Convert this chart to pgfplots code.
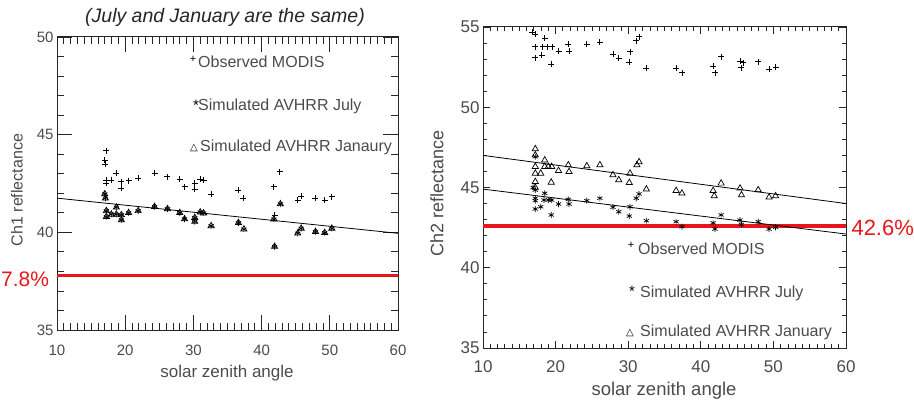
\documentclass[border=0pt]{standalone}
\usepackage{pgfplots}
\pgfplotsset{compat=1.18}
\usepackage{fontspec}
\setmainfont{Liberation Sans}
\newfontfamily\symfont{DejaVu Sans}
\definecolor{txt}{RGB}{75,75,75}
\definecolor{redl}{RGB}{232,22,28}

\pgfplotstableread{
x y
17.24 44.17
17.0 43.7
17.1 43.48
17.24 42.68
17.2 42.5
17.97 42.68
18.7 43.02
19.44 42.6
19.44 42.25
20.5 42.65
21.9 42.77
24.3 43.02
26.2 42.85
28.0 42.72
28.7 42.34
30.2 42.51
30.2 42.22
31.0 42.72
31.5 42.68
32.6 41.96
36.6 42.17
37.3 41.74
41.8 42.34
42.65 43.1
41.9 40.89
45.3 41.66
45.8 41.86
47.9 41.74
49.25 41.66
50.3 41.83
}\leftmodis

\pgfplotstableread{
x y
17.0 41.96
17.1 41.74
17.24 41.1
17.24 40.8
17.97 40.92
18.7 41.28
18.7 40.92
19.44 40.89
19.44 40.63
20.5 41.0
21.9 41.1
24.3 41.31
26.2 41.2
28.0 41.0
28.7 40.68
30.2 40.75
30.2 40.55
31.0 41.03
31.5 40.98
32.6 40.33
36.6 40.49
37.4 40.16
41.8 40.67
42.75 41.45
41.9 39.27
45.3 39.95
45.8 40.2
47.9 40.03
49.25 39.98
50.3 40.2
}\leftsim

\pgfplotstableread{
x y
16.8 54.67
17.2 54.54
17.2 53.77
17.2 53.09
18.1 53.26
18.2 53.77
18.5 54.3
18.9 53.77
19.4 52.68
19.55 53.77
20.4 53.5
21.75 53.92
21.85 53.5
24.3 53.92
26.1 54.05
27.9 53.32
28.7 53.05
30.25 53.46
30.15 52.8
31.1 54.15
31.5 54.4
32.5 52.43
36.6 52.43
37.4 52.15
41.7 52.57
41.95 52.15
42.8 53.15
45.4 52.88
45.6 52.46
45.8 52.78
47.9 52.84
49.4 52.36
50.3 52.49
}\rightmodis

\pgfplotstableread{
x y
17.2 46.92
16.9 45.0
17.2 44.84
17.2 44.33
17.2 44.18
17.2 43.66
17.95 43.8
18.5 44.64
18.4 44.22
19.0 44.22
19.46 44.22
19.4 43.29
20.4 43.97
21.75 44.26
21.85 43.97
24.3 44.18
26.1 44.33
27.9 43.77
28.7 43.49
30.25 43.8
30.15 43.22
31.1 44.33
31.5 44.6
32.5 42.93
36.6 42.87
37.4 42.56
41.7 42.8
41.95 42.41
42.8 43.29
45.4 42.97
45.6 42.7
47.9 42.87
49.4 42.41
50.3 42.52
}\rightjul

\pgfplotstableread{
x y
17.2 47.4
17.2 47.02
17.2 46.3
17.2 45.88
17.2 45.36
17.2 45.0
17.95 45.88
18.5 46.7
18.5 46.3
19.0 46.3
19.46 46.3
19.4 45.32
20.4 46.05
21.75 46.4
21.85 45.98
24.3 46.34
26.1 46.4
27.9 45.78
28.7 45.47
30.25 45.88
30.15 45.3
31.2 46.4
31.5 46.59
32.5 44.89
36.6 44.8
37.4 44.64
41.7 44.8
41.85 44.47
42.8 45.26
45.4 44.95
45.6 44.53
47.9 44.85
49.4 44.39
50.3 44.47
}\rightjan

\pgfplotsset{
  myaxis/.style={
    scale only axis,
    xmin=10, xmax=60,
    xtick={10,20,...,60},
    minor x tick num=9,
    minor y tick num=4,
    tick align=inside,
    axis line style={line width=1bp, black!85},
    every tick/.style={black!85, line width=0.8bp},
    tick label style={text=txt},
    /pgf/number format/assume math mode=true,
    clip=false,
  },
  modis/.style={only marks, mark=+, mark size=3bp, black, mark options={line width=0.8bp}},
  jul/.style={only marks, mark=asterisk, mark size=3bp, black, mark options={line width=0.7bp}},
  jan/.style={only marks, mark=triangle, mark size=3.6bp, black, mark options={line width=0.7bp}},
}

\begin{document}
\begin{tikzpicture}
\path[use as bounding box] (0bp,0bp) rectangle (914bp,402bp);
\clip (0bp,0bp) rectangle (914bp,402bp);

% ---------- left panel ----------
\begin{axis}[myaxis, at={(57bp,72bp)}, anchor=south west,
  width=341bp, height=293bp,
  ymin=35, ymax=50, ytick={35,40,45,50},
  major tick length=15bp, minor tick length=7bp,
  tick label style={font=\fontsize{15bp}{15bp}\selectfont},
  xticklabel style={yshift=-12bp}]
\addplot[redl, line width=3.5bp] coordinates {(10,37.8) (60,37.8)};
\addplot[black, line width=0.8bp] coordinates {(10,41.75) (60,39.95)};
\addplot[modis] table {\leftmodis};
\addplot[jul] table {\leftsim};
\addplot[jan] table {\leftsim};
\end{axis}

% ---------- right panel ----------
\begin{axis}[myaxis, at={(483bp,54bp)}, anchor=south west,
  width=363bp, height=321bp,
  ymin=35, ymax=55, ytick={35,40,45,50,55},
  major tick length=7bp, minor tick length=4bp,
  tick label style={font=\fontsize{17bp}{17bp}\selectfont},
  xticklabel style={yshift=-9bp}]
\addplot[redl, line width=3.5bp] coordinates {(10,42.6) (60,42.6)};
\addplot[black, line width=0.8bp] coordinates {(10,47.0) (60,44.0)};
\addplot[black, line width=0.8bp] coordinates {(10,44.9) (60,42.1)};
\addplot[modis] table {\rightmodis};
\addplot[jul] table {\rightjul};
\addplot[jan] table {\rightjan};
\end{axis}

% ---------- texts ----------
\node[font=\fontsize{19.5bp}{20bp}\selectfont\itshape, text=black!85] at (225bp,385bp) {(July and January are the same)};

\node[rotate=90, text=txt, font=\fontsize{16bp}{16bp}\selectfont] at (17bp,212bp) {Ch1 reflectance};
\node[rotate=90, text=txt, font=\fontsize{18bp}{18bp}\selectfont] at (437bp,209bp) {Ch2 reflectance};
\node[text=txt, font=\fontsize{17bp}{17bp}\selectfont] at (227bp,29bp) {solar zenith angle};
\node[text=txt, font=\fontsize{18.5bp}{18.5bp}\selectfont] at (664bp,11bp) {solar zenith angle};

\node[anchor=west, inner sep=0, text=redl, font=\fontsize{21bp}{21bp}\selectfont] at (1bp,123bp) {7.8\%};
\node[anchor=west, text=redl, font=\fontsize{22bp}{22bp}\selectfont] at (848bp,174bp) {42.6\%};

\begin{scope}[every node/.style={text=txt, font=\fontsize{16bp}{16bp}\selectfont}]
\node[anchor=base west, inner sep=0] at (198bp,334bp) {Observed MODIS};
\node[anchor=base west, inner sep=0] at (198bp,291bp) {Simulated AVHRR July};
\node[anchor=base west, inner sep=0] at (200bp,250bp) {Simulated AVHRR Janaury};
\node[anchor=base west, inner sep=0] at (638bp,147bp) {Observed MODIS};
\node[anchor=base west, inner sep=0] at (640bp,104bp) {Simulated AVHRR July};
\node[anchor=base west, inner sep=0] at (640bp,65bp) {Simulated AVHRR January};
\end{scope}
\begin{scope}[every node/.style={text=black, inner sep=0}]
\node[font=\fontsize{11bp}{11bp}\selectfont] at (193bp,343bp) {+};
\node[font=\fontsize{15bp}{15bp}\selectfont] at (196bp,297bp) {*};
\node[font=\symfont\fontsize{10bp}{10bp}\selectfont] at (194bp,254bp) {△};
\node[font=\fontsize{11bp}{11bp}\selectfont] at (631bp,157bp) {+};
\node[font=\fontsize{15bp}{15bp}\selectfont] at (632bp,111bp) {*};
\node[font=\symfont\fontsize{10bp}{10bp}\selectfont] at (630bp,69bp) {△};
\end{scope}
\end{tikzpicture}
\end{document}
